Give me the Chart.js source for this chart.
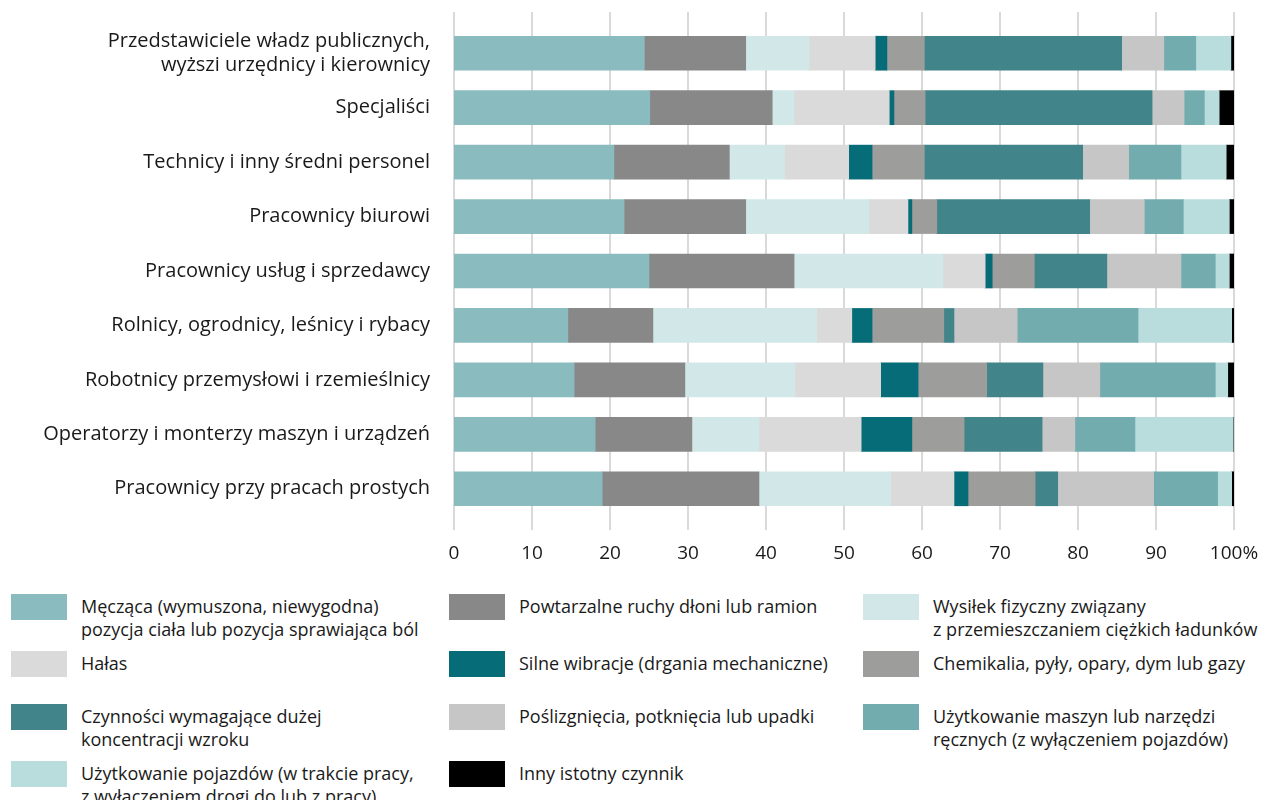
<!DOCTYPE html>
<html>
<head>
<meta charset="utf-8">
<script src="https://cdn.jsdelivr.net/npm/chart.js@4"></script>
<style>
  body { margin: 0; background: #fff; font-family: "Open Sans", sans-serif; color: #1a1a1a; }
  #wrap { position: relative; width: 1266px; height: 800px; }
  #legend {
    position: absolute; top: 594px; left: 11px;
    display: grid; grid-template-columns: 438px 414px auto;
    grid-template-rows: 57px 53px 57px auto;
  }
  .item { display: flex; align-items: flex-start; }
  .box { width: 56px; height: 26px; flex: none; margin-right: 14px; }
  .txt { font-size: 18px; line-height: 23px; padding-top: 1px; white-space: nowrap; }
</style>
</head>
<body>
<div id="wrap">
  <canvas id="myChart" width="1266" height="580"></canvas>
  <div id="legend"></div>
</div>
<script>
const categories = [
  ['Przedstawiciele władz publicznych,', 'wyższi urzędnicy i kierownicy'],
  'Specjaliści',
  'Technicy i inny średni personel',
  'Pracownicy biurowi',
  'Pracownicy usług i sprzedawcy',
  'Rolnicy, ogrodnicy, leśnicy i rybacy',
  'Robotnicy przemysłowi i rzemieślnicy',
  'Operatorzy i monterzy maszyn i urządzeń',
  'Pracownicy przy pracach prostych'
];

const pozycja = [24.4, 25.1, 20.5, 21.8, 25.0, 14.6, 15.4, 18.1, 19.0];
const ruchy = [13.0, 15.7, 14.8, 15.6, 18.6, 10.9, 14.2, 12.4, 20.1];
const wysilek = [8.1, 2.8, 7.1, 15.8, 19.1, 21.0, 14.1, 8.6, 16.9];
const halas = [8.5, 12.2, 8.2, 5.0, 5.4, 4.5, 11.0, 13.1, 8.1];
const wibracje = [1.5, 0.6, 3.0, 0.5, 0.9, 2.6, 4.8, 6.5, 1.8];
const chemikalia = [4.8, 4.0, 6.7, 3.2, 5.4, 9.2, 8.8, 6.7, 8.6];
const wzrok = [25.3, 29.1, 20.3, 19.6, 9.3, 1.3, 7.2, 10.0, 2.9];
const upadki = [5.4, 4.1, 5.9, 7.0, 9.5, 8.1, 7.3, 4.2, 12.3];
const maszyny = [4.1, 2.6, 6.7, 5.0, 4.4, 15.5, 14.8, 7.7, 8.2];
const pojazdy = [4.5, 1.9, 5.8, 5.9, 1.8, 12.0, 1.6, 12.6, 1.8];
const inny = [0.4, 1.9, 1.0, 0.6, 0.6, 0.3, 0.8, 0.1, 0.3];

const xTicks = [0, 10, 20, 30, 40, 50, 60, 70, 80, 90, 100];

const series = [
  { label: ['Męcząca (wymuszona, niewygodna)', 'pozycja ciała lub pozycja sprawiająca ból'], data: pozycja, color: '#8abbbe' },
  { label: ['Powtarzalne ruchy dłoni lub ramion'], data: ruchy, color: '#888888' },
  { label: ['Wysiłek fizyczny związany', 'z przemieszczaniem ciężkich ładunków'], data: wysilek, color: '#d1e7e8' },
  { label: ['Hałas'], data: halas, color: '#dadada' },
  { label: ['Silne wibracje (drgania mechaniczne)'], data: wibracje, color: '#066c77' },
  { label: ['Chemikalia, pyły, opary, dym lub gazy'], data: chemikalia, color: '#9d9d9b' },
  { label: ['Czynności wymagające dużej', 'koncentracji wzroku'], data: wzrok, color: '#418489' },
  { label: ['Poślizgnięcia, potknięcia lub upadki'], data: upadki, color: '#c6c6c6' },
  { label: ['Użytkowanie maszyn lub narzędzi', 'ręcznych (z wyłączeniem pojazdów)'], data: maszyny, color: '#72acae' },
  { label: ['Użytkowanie pojazdów (w trakcie pracy,', 'z wyłączeniem drogi do lub z pracy)'], data: pojazdy, color: '#b9dddd' },
  { label: ['Inny istotny czynnik'], data: inny, color: '#000000' }
];

// vertical grid lines, a bit taller than the plot area
const gridLines = {
  id: 'gridLines',
  beforeDatasetsDraw(chart) {
    const { ctx, scales: { x } } = chart;
    ctx.save();
    ctx.strokeStyle = '#d9d9d9';
    ctx.lineWidth = 2;
    xTicks.forEach(v => {
      const px = Math.round(x.getPixelForValue(v));
      ctx.beginPath();
      ctx.moveTo(px, 12);
      ctx.lineTo(px, 530);
      ctx.stroke();
    });
    ctx.restore();
  }
};

const ctx = document.getElementById('myChart').getContext('2d');
const myChart = new Chart(ctx, {
  type: 'bar',
  data: {
    labels: categories,
    datasets: series.map(s => ({
      label: s.label.join(' '),
      data: s.data,
      backgroundColor: s.color,
      borderWidth: 0,
      barThickness: 34
    }))
  },
  options: {
    indexAxis: 'y',
    responsive: false,
    animation: false,
    layout: { padding: { top: 26, right: 32, left: 0, bottom: 0 } },
    plugins: { legend: { display: false }, tooltip: { enabled: false } },
    scales: {
      x: {
        stacked: true,
        min: 0,
        max: 100,
        afterBuildTicks: axis => { axis.ticks = xTicks.map(v => ({ value: v })); },
        afterFit: axis => {
          axis.height = 64;
          axis.paddingLeft = 0;
          axis.paddingRight = 0;
        },
        grid: { display: false },
        border: { display: false },
        ticks: {
          padding: 18,
          color: '#1a1a1a',
          font: { family: 'Open Sans', size: 19 },
          callback: v => v === 100 ? '100%' : v
        }
      },
      y: {
        stacked: true,
        afterFit: axis => {
          axis.width = 454;
          axis.paddingTop = 0;
          axis.paddingBottom = 0;
        },
        grid: { display: false },
        border: { display: false },
        ticks: {
          padding: 16,
          color: '#1a1a1a',
          font: { family: 'Open Sans', size: 20 }
        }
      }
    }
  },
  plugins: [gridLines]
});

const legend = document.getElementById('legend');
series.forEach(s => {
  const item = document.createElement('div');
  item.className = 'item';
  const box = document.createElement('div');
  box.className = 'box';
  box.style.background = s.color;
  const txt = document.createElement('div');
  txt.className = 'txt';
  txt.innerHTML = s.label.join('<br>');
  item.appendChild(box);
  item.appendChild(txt);
  legend.appendChild(item);
});
</script>
</body>
</html>
